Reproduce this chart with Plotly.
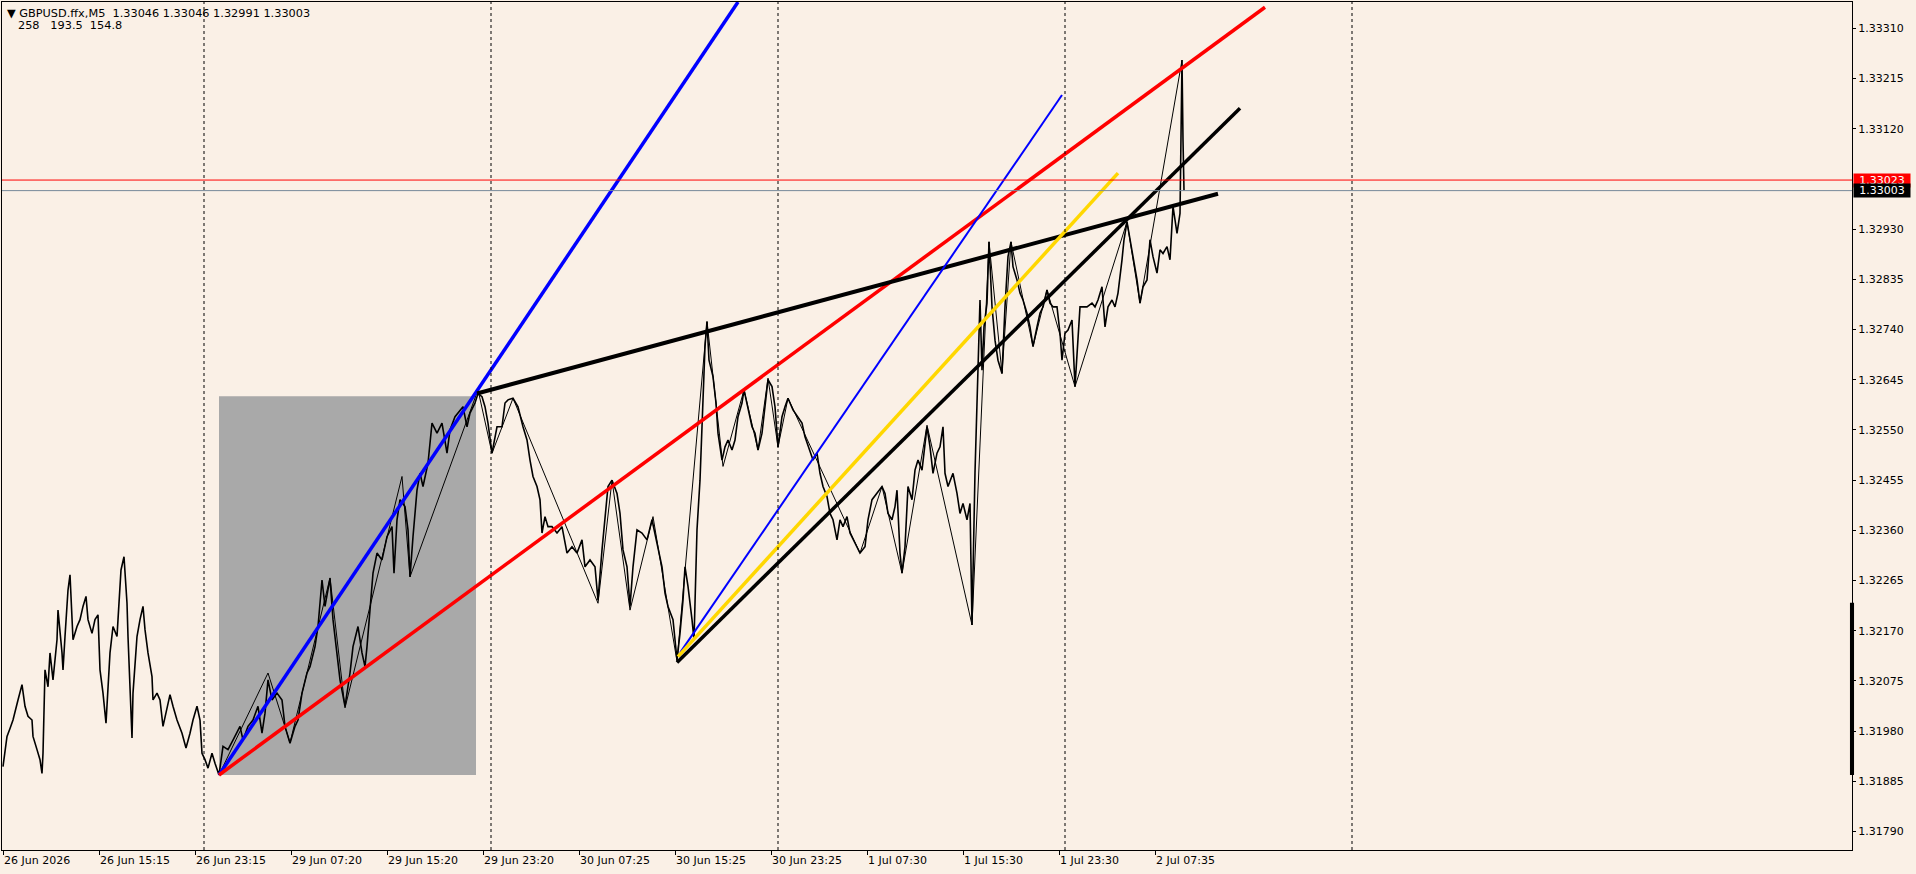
import plotly.graph_objects as go

# M5 收盘价 (bar 序号, 价格) —— 从图上读出
bars = [0, 4, 7, 10, 15, 19, 22, 25, 29, 30, 34, 37, 39, 40, 42, 45, 47, 50, 54, 55,
        59, 60, 62, 65, 67, 69, 70, 74, 77, 80, 83, 85, 89, 92, 95, 97, 100, 103, 105, 107,
        110, 114, 115, 118, 121, 124, 125, 127, 129, 130, 134, 137, 140, 142, 145, 149, 150, 154, 157, 160,
        164, 167, 170, 174, 179, 183, 187, 190, 194, 197, 199, 202, 205, 209, 212, 216,
        220, 225, 230, 237, 240, 245, 250, 255, 259, 262, 265, 269, 274, 279, 282, 287, 292, 295, 299, 304,
        307, 312, 315, 319, 322, 327, 330, 334, 337, 342, 347, 350, 355, 359, 362, 364, 367, 370, 374, 379,
        384, 389, 391, 394, 397, 402, 405, 407, 410, 414, 417, 420, 425, 429, 434, 439, 444, 447, 452, 457,
        460, 464, 467, 472, 475, 479, 482, 485, 489,
        494, 499, 502, 505, 510, 515, 520, 524, 527, 530, 534, 537, 539, 542, 545, 549, 554, 559, 564, 569,
        574, 579, 582, 587, 592, 595, 599, 602, 605, 609, 614, 617, 620, 624, 627, 630, 634, 639, 644, 649,
        652, 655, 659, 662, 665, 670, 674, 677, 680, 682, 685, 689, 691, 694, 697, 700, 702, 704, 706, 710,
        713, 715, 719, 722, 725, 729, 732, 735, 739, 741, 745, 749, 752, 755, 759, 762, 765, 769, 772, 775,
        779, 782, 785,
        790, 795, 799, 802, 807, 810, 814, 817, 820, 824, 827, 830, 834, 837, 840, 844, 847, 852, 857, 862,
        865, 869, 874, 879, 882, 885, 889, 892, 894, 897, 899, 902, 905, 909, 912, 915, 919, 924, 927, 930,
        934, 937, 940, 942, 945, 950, 954, 957, 960, 964, 967, 969, 972, 974, 977, 979, 981, 984, 986, 989,
        992, 995, 999, 1002, 1005, 1008, 1010, 1014, 1017, 1020, 1024, 1027, 1030, 1034, 1037, 1040, 1044, 1047, 1050, 1054,
        1057, 1059, 1062, 1065, 1069, 1072, 1077, 1084, 1089, 1092, 1095, 1099, 1102, 1105, 1109, 1112, 1115, 1119, 1121, 1124,
        1127, 1130, 1134, 1137, 1140, 1144, 1147, 1150, 1154, 1157, 1160, 1164, 1167, 1170, 1174, 1177, 1179, 1180, 1181]
closes = [1.31913, 1.31970, 1.31985, 1.32001, 1.32039, 1.32068, 1.32027, 1.32008, 1.32001, 1.31970,
          1.31945, 1.31926, 1.31900, 1.31938, 1.32096, 1.32064, 1.32128, 1.32077, 1.32153, 1.32209,
          1.32128, 1.32096, 1.32159, 1.32247, 1.32276, 1.32191, 1.32153, 1.32178, 1.32191, 1.32216,
          1.32235, 1.32191, 1.32165, 1.32191, 1.32200, 1.32096, 1.32052, 1.31995, 1.32064, 1.32128,
          1.32178, 1.32159, 1.32191, 1.32285, 1.32310, 1.32222, 1.32159, 1.32064, 1.31967, 1.32052,
          1.32159, 1.32191, 1.32216, 1.32172, 1.32128, 1.32083, 1.32039, 1.32052, 1.32039, 1.31989,
          1.32020, 1.32049, 1.32027, 1.32001, 1.31976, 1.31948, 1.31976, 1.32001, 1.32027, 1.32001,
          1.31938, 1.31926, 1.31910, 1.31938, 1.31919, 1.31897,
          1.31951, 1.31945, 1.31963, 1.31989, 1.31963, 1.31989, 1.32001, 1.32027, 1.31976, 1.32014,
          1.32077, 1.32039, 1.32052, 1.32039, 1.31989, 1.31957, 1.31989, 1.32001, 1.32052, 1.32090,
          1.32102, 1.32140, 1.32178, 1.32266, 1.32216, 1.32269, 1.32191, 1.32128, 1.32077, 1.32027,
          1.32090, 1.32140, 1.32178, 1.32128, 1.32102, 1.32140, 1.32216, 1.32279, 1.32317, 1.32304,
          1.32348, 1.32367, 1.32279, 1.32380, 1.32418, 1.32405, 1.32361, 1.32272, 1.32348, 1.32436,
          1.32468, 1.32443, 1.32487, 1.32563, 1.32544, 1.32563, 1.32506, 1.32550, 1.32575, 1.32588,
          1.32594, 1.32556, 1.32582, 1.32601, 1.32619, 1.32613, 1.32594, 1.32563, 1.32506,
          1.32556, 1.32556, 1.32601, 1.32607, 1.32610, 1.32594, 1.32556, 1.32531, 1.32493, 1.32462,
          1.32443, 1.32418, 1.32355, 1.32386, 1.32367, 1.32367, 1.32355, 1.32367, 1.32317, 1.32329,
          1.32317, 1.32342, 1.32291, 1.32304, 1.32291, 1.32228, 1.32323, 1.32386, 1.32443, 1.32455,
          1.32430, 1.32392, 1.32323, 1.32291, 1.32216, 1.32291, 1.32361, 1.32355, 1.32342, 1.32380,
          1.32355, 1.32329, 1.32291, 1.32241, 1.32216, 1.32191, 1.32115, 1.32165, 1.32228, 1.32291,
          1.32254, 1.32191, 1.32153, 1.32361, 1.32455, 1.32607, 1.32708, 1.32755, 1.32682, 1.32651,
          1.32601, 1.32544, 1.32493, 1.32518, 1.32531, 1.32512, 1.32531, 1.32575, 1.32601, 1.32626,
          1.32594, 1.32556, 1.32544, 1.32512, 1.32544, 1.32594, 1.32645, 1.32632, 1.32594, 1.32518,
          1.32575, 1.32594, 1.32610,
          1.32588, 1.32575, 1.32563, 1.32537, 1.32512, 1.32493, 1.32506, 1.32468, 1.32443, 1.32424,
          1.32392, 1.32380, 1.32342, 1.32380, 1.32367, 1.32386, 1.32355, 1.32336, 1.32317, 1.32329,
          1.32380, 1.32418, 1.32430, 1.32443, 1.32430, 1.32392, 1.32380, 1.32405, 1.32436, 1.32317,
          1.32279, 1.32329, 1.32443, 1.32418, 1.32474, 1.32493, 1.32474, 1.32556, 1.32518, 1.32468,
          1.32506, 1.32518, 1.32556, 1.32468, 1.32443, 1.32468, 1.32430, 1.32392, 1.32411, 1.32380,
          1.32411, 1.32181, 1.32470, 1.32588, 1.32796, 1.32663, 1.32745, 1.32790, 1.32906, 1.32783,
          1.32720, 1.32682, 1.32657, 1.32783, 1.32878, 1.32906, 1.32859, 1.32834, 1.32809, 1.32796,
          1.32771, 1.32745, 1.32708, 1.32745, 1.32771, 1.32783, 1.32815, 1.32790, 1.32783, 1.32783,
          1.32733, 1.32682, 1.32733, 1.32739, 1.32758, 1.32632, 1.32783, 1.32783, 1.32790, 1.32783,
          1.32796, 1.32821, 1.32745, 1.32783, 1.32796, 1.32783, 1.32809, 1.32872, 1.32910, 1.32944,
          1.32910, 1.32872, 1.32834, 1.32790, 1.32821, 1.32834, 1.32910, 1.32878, 1.32847, 1.32891,
          1.32884, 1.32897, 1.32872, 1.32973, 1.32922, 1.32960, 1.33250, 1.33099, 1.33003]

# ZigZag 顶点
zz_bars = [216, 265, 287, 327, 342, 399, 407, 475, 489, 510, 595, 609, 627, 650, 674, 704, 720, 741,
           755, 765, 775, 785, 857, 879, 899, 924, 969, 986, 999, 1008, 1030, 1044, 1072, 1124, 1137, 1179]
zz_prices = [1.31897, 1.32090, 1.31958, 1.32270, 1.32024, 1.32462, 1.32272, 1.32626, 1.32506, 1.32610,
             1.32222, 1.32455, 1.32209, 1.32386, 1.32112, 1.32755, 1.32481, 1.32626, 1.32512, 1.32648,
             1.32518, 1.32610, 1.32317, 1.32443, 1.32279, 1.32559, 1.32181, 1.32906, 1.32657, 1.32906,
             1.32708, 1.32815, 1.32632, 1.32944, 1.32790, 1.33250]

# 趋势线 (两个端点)
blue_bars, blue_prices = [216, 735], [1.31897, 1.33360]
red_bars, red_prices = [216, 1262], [1.31897, 1.33350]
top_black_bars, top_black_prices = [474, 1215], [1.32619, 1.32997]
thin_blue_bars, thin_blue_prices = [677, 1059], [1.32128, 1.33184]
gold_bars, gold_prices = [675, 1115], [1.32121, 1.33036]
low_black_bars, low_black_prices = [674, 1237], [1.32110, 1.33159]

# 矩形 & 右侧区间标记
box_bars, box_prices = [216, 473], [1.31897, 1.32614]
marker_prices = [1.31897, 1.32223]

# 日分隔线
day_bars = [201, 488, 775, 1062, 1349]

ask, bid = 1.33023, 1.33003

tick_bars = [0, 96, 192, 288, 384, 480, 576, 672, 768, 864, 960, 1056, 1152]
tick_text = ['26 Jun 2026', '26 Jun 15:15', '26 Jun 23:15', '29 Jun 07:20', '29 Jun 15:20',
             '29 Jun 23:20', '30 Jun 07:25', '30 Jun 15:25', '30 Jun 23:25', '1 Jul 07:30',
             '1 Jul 15:30', '1 Jul 23:30', '2 Jul 07:35']
price_ticks = [1.33310, 1.33215, 1.33120, 1.32930, 1.32835, 1.32740, 1.32645, 1.32550,
               1.32455, 1.32360, 1.32265, 1.32170, 1.32075, 1.31980, 1.31885, 1.31790]

header1 = '\u25bc GBPUSD.ffx,M5\u00a0\u00a01.33046 1.33046 1.32991 1.33003'
header2 = '258\u00a0\u00a0\u00a0193.5\u00a0\u00a0154.8'

FONT = 'DejaVu Sans'
BG = '#FAF0E6'

fig = go.Figure()
fig.add_trace(go.Scatter(x=bars, y=closes, mode='lines', line=dict(color='black', width=1.6)))
fig.add_trace(go.Scatter(x=zz_bars, y=zz_prices, mode='lines', line=dict(color='black', width=1)))

for bx, py, col, w in [(blue_bars, blue_prices, '#0000FF', 3.5),
                       (red_bars, red_prices, '#FF0000', 3.5),
                       (top_black_bars, top_black_prices, 'black', 4),
                       (thin_blue_bars, thin_blue_prices, '#0000FF', 2),
                       (gold_bars, gold_prices, '#FFD700', 3.5),
                       (low_black_bars, low_black_prices, 'black', 3.5)]:
    fig.add_trace(go.Scatter(x=bx, y=py, mode='lines', line=dict(color=col, width=w)))

shapes = [dict(type='rect', x0=box_bars[0], x1=box_bars[1], y0=box_prices[0], y1=box_prices[1],
               fillcolor='#A9A9A9', line=dict(width=0), layer='below')]
for d in day_bars:
    shapes.append(dict(type='line', x0=d, x1=d, yref='paper', y0=0, y1=1,
                       line=dict(color='black', width=1, dash='3px,3px')))
shapes.append(dict(type='line', xref='paper', x0=0, x1=1, y0=ask, y1=ask, line=dict(color='#FF0000', width=1)))
shapes.append(dict(type='line', xref='paper', x0=0, x1=1, y0=bid, y1=bid, line=dict(color='#778899', width=1)))
shapes.append(dict(type='rect', xref='paper', x0=0.9989, x1=1.0011, y0=marker_prices[0], y1=marker_prices[1],
                   fillcolor='black', line=dict(width=0)))

annotations = [
    dict(x=0, xref='paper', xanchor='left', xshift=3, y=1, yref='paper', yanchor='middle', yshift=-11,
         text=header1, showarrow=False, font=dict(family=FONT, size=11.3, color='black')),
    dict(x=0, xref='paper', xanchor='left', xshift=14, y=1, yref='paper', yanchor='middle', yshift=-23,
         text=header2, showarrow=False, font=dict(family=FONT, size=11.3, color='black')),
    dict(x=1, xref='paper', xanchor='left', xshift=1, y=ask, yanchor='middle', text='1.33023',
         showarrow=False, bgcolor='#FF0000', borderpad=0, width=56,
         font=dict(family=FONT, size=11, color='white')),
    dict(x=1, xref='paper', xanchor='left', xshift=1, y=bid, yanchor='middle', text='1.33003',
         showarrow=False, bgcolor='black', borderpad=0, width=56,
         font=dict(family=FONT, size=11, color='white')),
]

fig.update_layout(
    width=1916, height=874,
    margin=dict(l=2, r=64, t=2, b=24),
    paper_bgcolor=BG, plot_bgcolor=BG,
    showlegend=False,
    shapes=shapes, annotations=annotations,
    font=dict(family=FONT, size=11, color='black'),
    xaxis=dict(range=[-1, 1849], tickvals=tick_bars, ticktext=tick_text, ticks='outside', ticklen=4,
               tickcolor='black', ticklabelposition='outside right', showgrid=False, zeroline=False,
               showline=True, linecolor='black', linewidth=1, mirror=True),
    yaxis=dict(range=[1.31755, 1.33360], side='right', tickvals=price_ticks,
               ticktext=['%.5f' % p for p in price_ticks], ticks='outside', ticklen=3,
               tickcolor='black', showgrid=False, zeroline=False,
               showline=True, linecolor='black', linewidth=1, mirror=True),
)

fig.write_html('out.html', config={'displayModeBar': False},
               post_script="document.body.style.margin='0';")
